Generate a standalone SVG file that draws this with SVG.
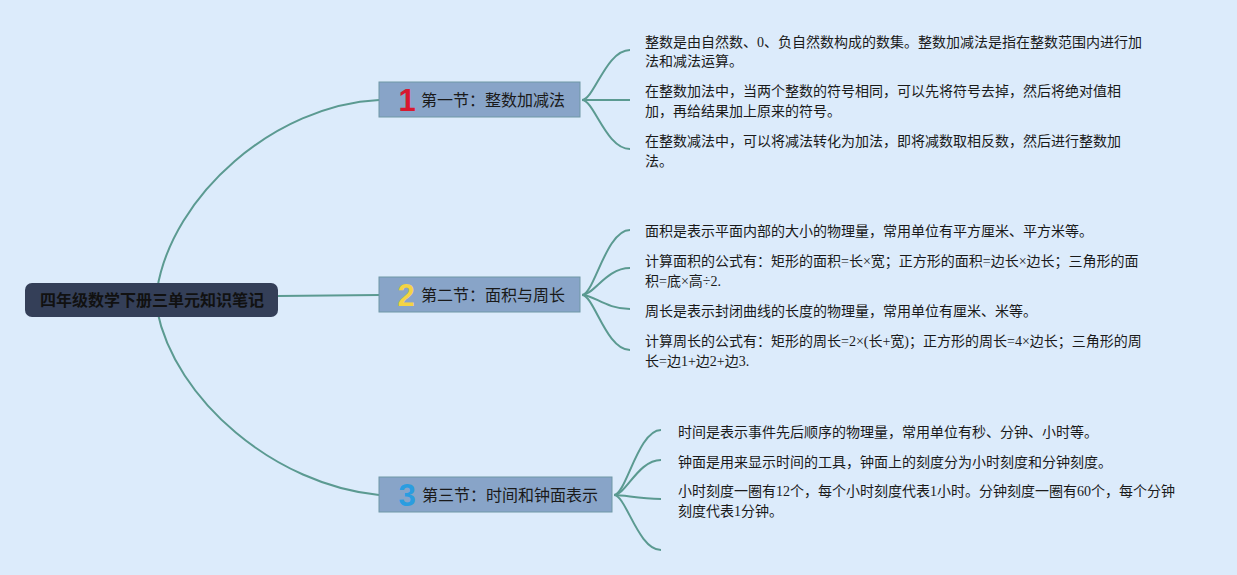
<svg xmlns="http://www.w3.org/2000/svg" width="1237" height="575" viewBox="0 0 1237 575">
<style>
.bg{fill:#dcebfb}
.conn{fill:none;stroke:#5b9a91;stroke-width:2}
.sec{fill:#88a4c8;stroke:#6f98a6;stroke-width:1}
.root{fill:#343f58}
.roott{font-family:"Liberation Sans","Noto Sans CJK SC",sans-serif;font-size:16px;font-weight:bold;fill:#111;text-anchor:middle}
.sect{font-family:"Liberation Sans","Noto Sans CJK SC",sans-serif;font-size:16px;fill:#1a1a1a}
.num{font-family:"Liberation Sans","DejaVu Sans",sans-serif;font-size:31px;font-weight:bold;text-anchor:middle}
.leaf{font-family:"Liberation Serif","Noto Sans CJK SC",serif;font-size:14px;fill:#1a1a1a}
</style>
<rect class="bg" x="0" y="0" width="1237" height="575"/>
<g id="connectors">
<path class="conn" d="M157 290 C172 195 275 105 379 100"/>
<path class="conn" d="M278 296 L379 295"/>
<path class="conn" d="M157 310 C175 400 275 485 379 495"/>
<path class="conn" d="M582 100 C594 100 606 50 630 50"/>
<path class="conn" d="M582 100 L630 100"/>
<path class="conn" d="M582 100 C594 100 606 149 630 149"/>
<path class="conn" d="M582 295 C594 295 606 230 630 230"/>
<path class="conn" d="M582 295 C594 295 606 268 630 268"/>
<path class="conn" d="M582 295 C594 295 606 309 630 309"/>
<path class="conn" d="M582 295 C594 295 606 350 630 350"/>
<path class="conn" d="M614 495 C626 495 638 430 661 430"/>
<path class="conn" d="M614 495 C626 495 638 460 661 460"/>
<path class="conn" d="M614 495 C626 495 638 499 661 499"/>
<path class="conn" d="M614 495 C626 495 638 550 661 550"/>
</g>
<g id="root">
<rect class="root" x="25" y="283" width="253" height="34" rx="7"/>
<text class="roott" x="152" y="306">四年级数学下册三单元知识笔记</text>
</g>
<g id="section1">
<rect class="sec" x="379" y="82" width="201" height="35"/>
<text class="num" x="407" y="111" fill="#d8192f">1</text>
<text class="sect" x="421" y="106">第一节：整数加减法</text>
</g>
<g id="section2">
<rect class="sec" x="379" y="277" width="201" height="35"/>
<text class="num" x="406" y="306" fill="#f4d443">2</text>
<text class="sect" x="421" y="301">第二节：面积与周长</text>
</g>
<g id="section3">
<rect class="sec" x="379" y="477" width="233" height="35"/>
<text class="num" x="407" y="506" fill="#2a9de0">3</text>
<text class="sect" x="422" y="501">第三节：时间和钟面表示</text>
</g>
<g id="leaf1-1"><text class="leaf" x="645" y="47">整数是由自然数、0、负自然数构成的数集。整数加减法是指在整数范围内进行加</text><text class="leaf" x="645" y="66">法和减法运算。</text></g>
<g id="leaf1-2"><text class="leaf" x="645" y="96">在整数加法中，当两个整数的符号相同，可以先将符号去掉，然后将绝对值相</text><text class="leaf" x="645" y="116">加，再给结果加上原来的符号。</text></g>
<g id="leaf1-3"><text class="leaf" x="645" y="146">在整数减法中，可以将减法转化为加法，即将减数取相反数，然后进行整数加</text><text class="leaf" x="645" y="166">法。</text></g>
<g id="leaf2-1"><text class="leaf" x="645" y="236">面积是表示平面内部的大小的物理量，常用单位有平方厘米、平方米等。</text></g>
<g id="leaf2-2"><text class="leaf" x="645" y="266">计算面积的公式有：矩形的面积=长×宽；正方形的面积=边长×边长；三角形的面</text><text class="leaf" x="645" y="286">积=底×高÷2.</text></g>
<g id="leaf2-3"><text class="leaf" x="645" y="316">周长是表示封闭曲线的长度的物理量，常用单位有厘米、米等。</text></g>
<g id="leaf2-4"><text class="leaf" x="645" y="346">计算周长的公式有：矩形的周长=2×(长+宽)；正方形的周长=4×边长；三角形的周</text><text class="leaf" x="645" y="366">长=边1+边2+边3.</text></g>
<g id="leaf3-1"><text class="leaf" x="678" y="437">时间是表示事件先后顺序的物理量，常用单位有秒、分钟、小时等。</text></g>
<g id="leaf3-2"><text class="leaf" x="678" y="467">钟面是用来显示时间的工具，钟面上的刻度分为小时刻度和分钟刻度。</text></g>
<g id="leaf3-3"><text class="leaf" x="678" y="496">小时刻度一圈有12个，每个小时刻度代表1小时。分钟刻度一圈有60个，每个分钟</text><text class="leaf" x="678" y="516">刻度代表1分钟。</text></g>
</svg>
